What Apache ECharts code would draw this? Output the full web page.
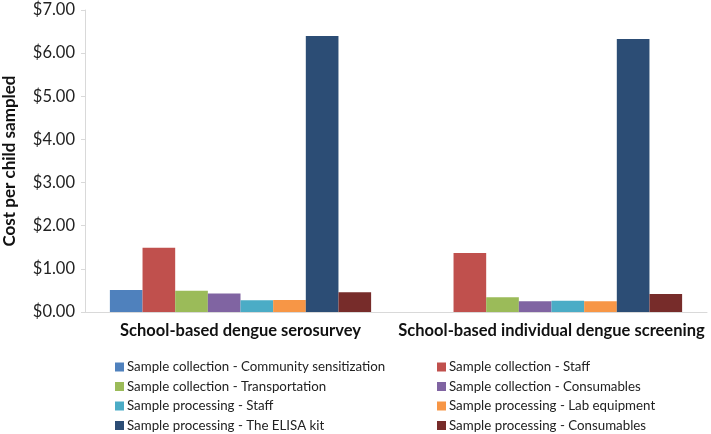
<!DOCTYPE html>
<html>
<head>
<meta charset="utf-8">
<script src="https://cdn.jsdelivr.net/npm/echarts@6/dist/echarts.min.js"></script>
<style>html,body{margin:0;padding:0;background:#fff;}#c{width:711px;height:434px;}</style>
</head>
<body>
<div id="c"></div>
<script>
const categories = ['School-based dengue serosurvey', 'School-based individual dengue screening'];
const seriesNames = [
  'Sample collection - Community sensitization',
  'Sample collection - Staff',
  'Sample collection - Transportation',
  'Sample collection - Consumables',
  'Sample processing - Staff',
  'Sample processing - Lab equipment',
  'Sample processing - The ELISA kit',
  'Sample processing - Consumables'
];
const communitySensitization = [0.51, 0];
const collectionStaff = [1.49, 1.37];
const transportation = [0.49, 0.34];
const collectionConsumables = [0.43, 0.25];
const processingStaff = [0.27, 0.26];
const labEquipment = [0.28, 0.25];
const elisaKit = [6.40, 6.33];
const processingConsumables = [0.455, 0.415];
const seriesValues = [communitySensitization, collectionStaff, transportation, collectionConsumables,
  processingStaff, labEquipment, elisaKit, processingConsumables];
const colors = ['#4F81BD', '#C0504D', '#9BBB59', '#8064A2', '#4BACC6', '#F79646', '#2C4D75', '#772C2A'];

const font = 'Lato';
const chart = echarts.init(document.getElementById('c'), null, {renderer: 'canvas'});
const legendBase = {
  orient: 'vertical', top: 359.5, height: 75, padding: 0, itemWidth: 9, itemHeight: 9, itemGap: 4.5,
  icon: 'rect', selectedMode: false,
  textStyle: {fontFamily: font, fontSize: 13.3, lineHeight: 15, color: '#222', padding: [0, 0, 0, -2]}
};
chart.setOption({
  animation: false,
  color: colors,
  grid: {left: 85, right: 4, top: 10, bottom: 122, containLabel: false, outerBoundsMode: 'none'},
  legend: [
    Object.assign({}, legendBase, {left: 115, data: [seriesNames[0], seriesNames[2], seriesNames[4], seriesNames[6]]}),
    Object.assign({}, legendBase, {left: 437, data: [seriesNames[1], seriesNames[3], seriesNames[5], seriesNames[7]]})
  ],
  xAxis: {
    type: 'category', data: categories,
    axisLine: {lineStyle: {color: '#D9D9D9'}},
    axisTick: {show: false},
    axisLabel: {fontFamily: font, fontSize: 16.5, fontWeight: 'bold', color: '#111', margin: 10, interval: 0}
  },
  yAxis: {
    type: 'value', min: 0, max: 7, interval: 1,
    name: 'Cost per child sampled', nameLocation: 'middle', nameGap: 67, nameRotate: 90,
    nameTextStyle: {fontFamily: font, fontSize: 17, fontWeight: 'bold', color: '#111'},
    splitLine: {show: false},
    axisLine: {show: true, lineStyle: {color: '#D9D9D9'}},
    axisTick: {show: true, length: 4, lineStyle: {color: '#D9D9D9'}},
    axisLabel: {fontFamily: font, fontSize: 16.5, color: '#222', margin: 10,
      formatter: v => '$' + v.toFixed(2)}
  },
  series: seriesNames.map((n, i) => ({
    name: n, type: 'bar', data: seriesValues[i],
    barGap: '0%', barCategoryGap: '16%',
    itemStyle: {color: colors[i]}
  }))
});
</script>
</body>
</html>
